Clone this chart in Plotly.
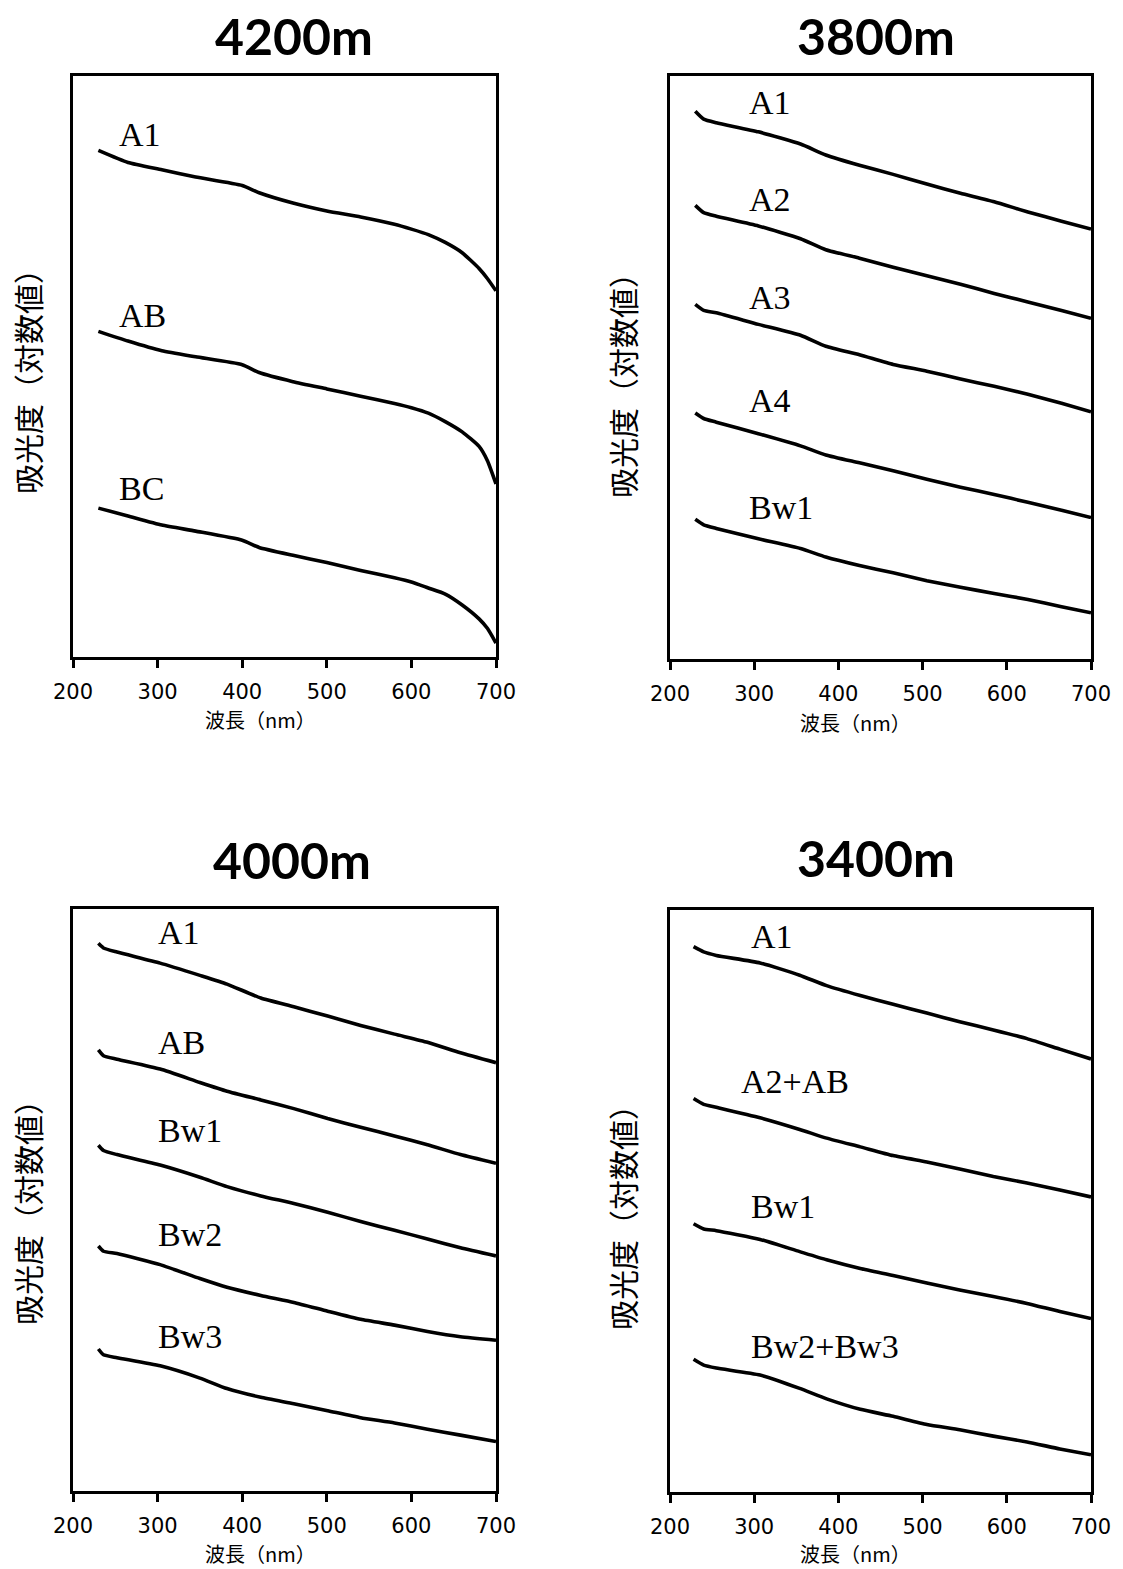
import plotly.graph_objects as go

W, H = 1123, 1569

# ---------------- data (arbitrary log-absorbance units) ----------------
wl_4200 = [230, 265, 305, 345, 400, 420, 460, 500, 540, 580, 600, 620, 640, 660, 680, 690, 700]
a1_4200 = [83.7, 81.7, 80.5, 79.3, 77.9, 76.7, 75.0, 73.7, 72.7, 71.5, 70.7, 69.8, 68.5, 66.8, 64.2, 62.5, 60.5]
ab_4200 = [53.8, 52.2, 50.6, 49.6, 48.3, 47.0, 45.5, 44.3, 43.1, 41.9, 41.2, 40.3, 38.9, 37.2, 34.8, 32.4, 28.6]
bc_4200 = [24.6, 23.3, 21.8, 20.8, 19.3, 18.1, 16.8, 15.6, 14.3, 13.1, 12.4, 11.4, 10.4, 8.6, 6.3, 4.7, 2.3]

wl_3800 = [230, 240, 255, 305, 355, 385, 425, 465, 505, 545, 585, 625, 665, 700]
a1_3800 = [90.2, 88.9, 88.3, 86.8, 84.8, 83.0, 81.3, 79.8, 78.2, 76.7, 75.3, 73.6, 72.1, 70.8]
a2_3800 = [74.7, 73.5, 72.9, 71.3, 69.2, 67.4, 66.0, 64.5, 63.1, 61.7, 60.2, 58.8, 57.4, 56.1]
a3_3800 = [58.4, 57.4, 57.0, 55.1, 53.3, 51.5, 50.1, 48.5, 47.4, 46.1, 44.9, 43.6, 42.1, 40.7]
a4_3800 = [40.5, 39.6, 39.0, 37.1, 35.1, 33.6, 32.3, 31.0, 29.6, 28.3, 27.1, 25.8, 24.5, 23.3]
bw1_3800 = [23.0, 22.1, 21.5, 19.8, 18.2, 16.8, 15.4, 14.2, 12.9, 11.8, 10.8, 9.8, 8.6, 7.6]

wl_4000 = [230, 236, 252, 303, 350, 382, 422, 461, 501, 540, 580, 619, 658, 700]
a1_4000 = [94.1, 93.3, 92.6, 90.7, 88.6, 87.1, 84.7, 83.2, 81.6, 80.0, 78.5, 77.1, 75.3, 73.6]
ab_4000 = [75.8, 74.8, 74.2, 72.5, 70.2, 68.7, 67.2, 65.7, 64.0, 62.5, 61.0, 59.5, 57.8, 56.3]
bw1_4000 = [59.4, 58.5, 57.8, 56.0, 53.9, 52.3, 50.7, 49.4, 47.9, 46.3, 44.8, 43.3, 41.8, 40.4]
bw2_4000 = [42.1, 41.2, 40.8, 38.9, 36.5, 35.0, 33.6, 32.4, 30.9, 29.5, 28.5, 27.4, 26.5, 25.9]
bw3_4000 = [24.4, 23.4, 22.9, 21.5, 19.4, 17.6, 16.1, 15.0, 13.8, 12.6, 11.7, 10.6, 9.6, 8.5]

wl_3400 = [228, 240, 255, 307, 354, 386, 426, 465, 505, 544, 584, 624, 663, 700]
a1_3400 = [93.7, 92.8, 92.2, 90.9, 88.8, 87.0, 85.3, 83.8, 82.3, 80.8, 79.4, 77.9, 76.1, 74.4]
a2ab_3400 = [67.6, 66.6, 66.1, 64.3, 62.3, 60.8, 59.3, 57.8, 56.7, 55.5, 54.2, 53.1, 51.9, 50.7]
bw1_3400 = [46.1, 45.2, 44.9, 43.4, 41.3, 39.9, 38.4, 37.2, 35.9, 34.7, 33.6, 32.4, 31.0, 29.8]
bw23_3400 = [22.8, 21.8, 21.3, 20.1, 17.8, 16.0, 14.2, 13.0, 11.6, 10.7, 9.6, 8.6, 7.4, 6.4]

titles = ["4200m", "3800m", "4000m", "3400m"]
x_ticks = [200, 300, 400, 500, 600, 700]
x_title = "波長（nm）"
y_title = "吸光度（対数値）"
y_tops = [96, 96, 100, 100]

panels = [
    dict(title=titles[0], wl=wl_4200,
         series=[("A1", a1_4200, 252, 86.3), ("AB", ab_4200, 252, 56.4), ("BC", bc_4200, 252, 27.9)]),
    dict(title=titles[1], wl=wl_3800,
         series=[("A1", a1_3800, 292, 91.6), ("A2", a2_3800, 292, 75.6), ("A3", a3_3800, 292, 59.6),
                 ("A4", a4_3800, 292, 42.5), ("Bw1", bw1_3800, 292, 25.0)]),
    dict(title=titles[2], wl=wl_4000,
         series=[("A1", a1_4000, 298, 95.9), ("AB", ab_4000, 298, 77.0), ("Bw1", bw1_4000, 298, 61.9),
                 ("Bw2", bw2_4000, 298, 44.1), ("Bw3", bw3_4000, 298, 26.6)]),
    dict(title=titles[3], wl=wl_3400,
         series=[("A1", a1_3400, 294, 95.5), ("A2+AB", a2ab_3400, 282, 70.5),
                 ("Bw1", bw1_3400, 294, 49.0), ("Bw2+Bw3", bw23_3400, 294, 25.0)]),
]

# ---------------- layout geometry (pixels) ----------------
boxes = [(73, 496, 76, 657), (670, 1091, 76, 659), (73, 496, 909, 1491), (670, 1091, 910, 1492)]
title_pos = [(294, 36), (876, 36), (292, 860), (876, 858)]
xt_pos = [(260, 720), (855, 722), (260, 1553), (855, 1553)]
yt_pos = [(27, 374), (622, 378), (27, 1205), (622, 1210)]


def px(x):
    return x / W


def py(y):
    return 1 - y / H


fig = go.Figure()
annotations = []
layout = {}

for i, (p, box) in enumerate(zip(panels, boxes)):
    n = i + 1
    xa = "x" if n == 1 else f"x{n}"
    ya = "y" if n == 1 else f"y{n}"
    xkey = "xaxis" if n == 1 else f"xaxis{n}"
    ykey = "yaxis" if n == 1 else f"yaxis{n}"
    l, r, t, b = box
    layout[xkey] = dict(
        domain=[px(l), px(r)], range=[200, 700], anchor=ya, automargin=False,
        tickmode="array", tickvals=x_ticks, ticktext=[str(v) for v in x_ticks],
        ticks="outside", ticklen=8, tickwidth=2.5, tickcolor="black",
        showline=True, linecolor="black", linewidth=2.5, mirror=True,
        showgrid=False, zeroline=False,
        tickfont=dict(family="DejaVu Sans", size=21, color="black"),
        ticklabelstandoff=6,
    )
    layout[ykey] = dict(
        domain=[py(b), py(t)], range=[0, y_tops[i]], anchor=xa, automargin=False,
        showticklabels=False, ticks="",
        showline=True, linecolor="black", linewidth=2.5, mirror=True,
        showgrid=False, zeroline=False,
    )
    for name, vals, lx, ly in p["series"]:
        fig.add_trace(go.Scatter(
            x=p["wl"], y=vals, mode="lines", name=name,
            line=dict(color="black", width=3.6, shape="spline", smoothing=0.5),
            xaxis=xa, yaxis=ya, showlegend=False, hoverinfo="skip",
        ))
        annotations.append(dict(
            x=lx, y=ly, xref=xa, yref=ya, text=name, showarrow=False,
            xanchor="left", yanchor="middle",
            font=dict(family="Liberation Serif", size=34, color="black"),
        ))
    tx, ty = title_pos[i]
    annotations.append(dict(
        x=px(tx), y=py(ty), xref="paper", yref="paper", text=f"<b>{p['title']}</b>",
        showarrow=False, xanchor="center", yanchor="middle",
        font=dict(family="Lato", size=50, color="black"),
    ))
    xx, xy = xt_pos[i]
    annotations.append(dict(
        x=px(xx), y=py(xy), xref="paper", yref="paper", text=x_title,
        showarrow=False, xanchor="center", yanchor="middle",
        font=dict(family="Noto Sans CJK JP", size=20, color="black"),
    ))
    yx, yy = yt_pos[i]
    annotations.append(dict(
        x=px(yx), y=py(yy), xref="paper", yref="paper", text=y_title,
        showarrow=False, xanchor="center", yanchor="middle", textangle=-90,
        font=dict(family="Noto Sans CJK JP", size=30, color="black"),
    ))

fig.update_layout(
    template="none",
    width=W, height=H,
    margin=dict(l=0, r=0, t=0, b=0, pad=0, autoexpand=False),
    paper_bgcolor="white", plot_bgcolor="white",
    annotations=annotations,
    **layout,
)

fig.write_html(
    "out.html",
    config={"displayModeBar": False},
    post_script="document.body.style.margin='0';document.body.style.padding='0';",
)
